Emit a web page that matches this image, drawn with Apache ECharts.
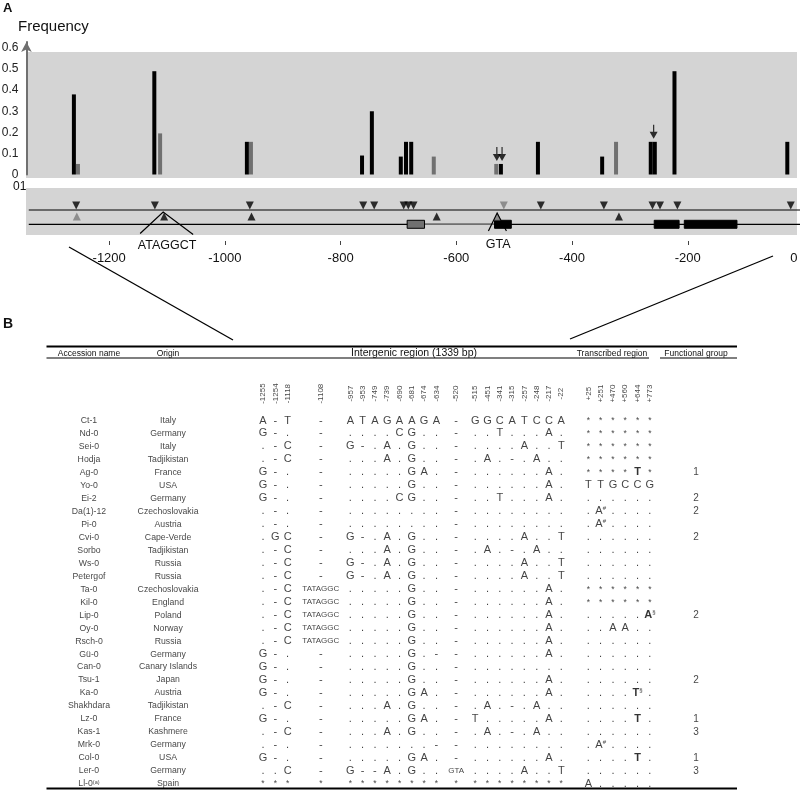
<!DOCTYPE html>
<html><head><meta charset="utf-8">
<script src="https://cdn.jsdelivr.net/npm/echarts@6.0.0/dist/echarts.min.js"></script>
<style>html,body{margin:0;padding:0;background:#fff}#c{width:800px;height:793px}</style>
</head><body><div id="c"></div>
<script>
const FONT = '"Liberation Sans", Arial, Helvetica, sans-serif';
const BG = '#d4d4d4';
const GRAY = '#707070';

// ---------- Panel A data ----------
const blackPos  = [-1261, -1122, -962, -763, -746, -696, -687, -678, -523, -459, -348, -264, -257, -223, -28];
const blackFreq = [0.38, 0.49, 0.155, 0.09, 0.30, 0.085, 0.155, 0.155, 0.05, 0.155, 0.085, 0.155, 0.155, 0.49, 0.155];
const grayPos   = [-1254, -1112, -955, -639, -531, -324];
const grayFreq  = [0.05, 0.195, 0.155, 0.085, 0.05, 0.155];
const arrowPos  = [-530, -521, -259];
const arrowFreq = [0.05, 0.05, 0.155];
const freqTicks = [0, 0.1, 0.2, 0.3, 0.4, 0.5, 0.6];
const posTicks  = [-1200, -1000, -800, -600, -400, -200, 0];
const region    = [-1339, 0];
const downBlack = [-1257, -1121, -957, -761, -742, -691, -683, -674, -454, -345, -261, -248, -218, -22];
const downGray  = [-518];
const upBlack   = [-1105, -954, -634, -319];
const upGray    = [-1256, -529];
const boxStart  = [-685, -534, -258, -206];
const boxEnd    = [-655, -505, -215, -115];
const boxKind   = ['gray', 'black', 'black', 'black'];
const calloutPos  = [-1105, -529];
const calloutText = ['ATAGGCT', 'GTA'];

// ---------- Panel B data ----------
const colLabels = ['-1255','-1254','-1118','-1108','-957','-953','-749','-739','-690','-681','-674','-634','-520',
  '-515','-451','-341','-315','-257','-248','-217','-22','+25','+251','+470','+560','+644','+773'];
const accessions = ['Ct-1','Nd-0','Sei-0','Hodja','Ag-0','Yo-0','Ei-2','Da(1)-12','Pi-0','Cvi-0','Sorbo','Ws-0',
  'Petergof','Ta-0','Kil-0','Lip-0','Oy-0','Rsch-0','Gü-0','Can-0','Tsu-1','Ka-0','Shakhdara','Lz-0','Kas-1',
  'Mrk-0','Col-0','Ler-0','Ll-0^(a)'];
const origins = ['Italy','Germany','Italy','Tadjikistan','France','USA','Germany','Czechoslovakia','Austria',
  'Cape-Verde','Tadjikistan','Russia','Russia','Czechoslovakia','England','Poland','Norway','Russia','Germany',
  'Canary Islands','Japan','Austria','Tadjikistan','France','Kashmere','Germany','USA','Germany','Spain'];
const groups = ['','','','','1','','2','2','','2','','','','','','2','','','','','2','','','1','3','','1','3',''];
const alleles = [
  'A - T - A T A G A A G A - G G C A T C C A * * * * * *',
  'G - . - . . . . C G . . - . . T . . . A . * * * * * *',
  '. - C - G - . A . G . . - . . . . A . . T * * * * * *',
  '. - C - . . . A . G . . - . A . - . A . . * * * * * *',
  'G - . - . . . . . G A . - . . . . . . A . * * * * T! *',
  'G - . - . . . . . G . . - . . . . . . A . T T G C C G',
  'G - . - . . . . C G . . - . . T . . . A . . . . . . .',
  '. - . - . . . . . . . . - . . . . . . . . . A# . . . .',
  '. - . - . . . . . . . . - . . . . . . . . . A# . . . .',
  '. G C - G - . A . G . . - . . . . A . . T . . . . . .',
  '. - C - . . . A . G . . - . A . - . A . . . . . . . .',
  '. - C - G - . A . G . . - . . . . A . . T . . . . . .',
  '. - C - G - . A . G . . - . . . . A . . T . . . . . .',
  '. - C TATAGGC . . . . . G . . - . . . . . . A . * * * * * *',
  '. - C TATAGGC . . . . . G . . - . . . . . . A . * * * * * *',
  '. - C TATAGGC . . . . . G . . - . . . . . . A . . . . . . A!§',
  '. - C TATAGGC . . . . . G . . - . . . . . . A . . . A A . .',
  '. - C TATAGGC . . . . . G . . - . . . . . . A . . . . . . .',
  'G - . - . . . . . G . - - . . . . . . A . . . . . . .',
  'G - . - . . . . . G . . - . . . . . . . . . . . . . .',
  'G - . - . . . . . G . . - . . . . . . A . . . . . . .',
  'G - . - . . . . . G A . - . . . . . . A . . . . . T!§ .',
  '. - C - . . . A . G . . - . A . - . A . . . . . . . .',
  'G - . - . . . . . G A . - T . . . . . A . . . . . T! .',
  '. - C - . . . A . G . . - . A . - . A . . . . . . . .',
  '. - . - . . . . . . . - - . . . . . . . . . A# . . . .',
  'G - . - . . . . . G A . - . . . . . . A . . . . . T! .',
  '. . C - G - - A . G . . GTA . . . . A . . T . . . . . .',
  '* * * * * * * * * * * * * * * * * * * * * A . . . . .'
];

// ---------- layout constants ----------
const UPPER_Y = 0.532, LOWER_Y = 0.228, DOWN_Y = 0.628, UP_Y = 0.394;
const colGapAfter = {2: 1.7, 3: 1.4, 11: 0.6, 12: 0.55, 20: 1.2};
const colSlot = []; (function(){ let s = 0; colLabels.forEach((c, j) => { colSlot.push(s); s += 1 + (colGapAfter[j] || 0); }); })();
const NAME_SLOT = -14.15, ORIGIN_SLOT = -7.72, GROUP_SLOT = 35.2, HEAD_ROW = -2.07;
const ARROW = 'path://M3.4,0L4.6,0L4.6,7L8,7L4,14L0,7L3.4,7Z';
const CALLOUT_GEOM = [
  {apex: [-1, -4.5], left: [-24, 17], right: [29, 18], text: [3, 29]},
  {apex: [-0.3, -3.5], left: [-9, 14.5], right: [9, 14.5], text: [0.7, 28]}
];

const rich = {
  n:  {fontSize: 11, color: '#111', fontFamily: FONT},
  b:  {fontSize: 11, fontWeight: 'bold', color: '#000', fontFamily: FONT},
  s:  {fontSize: 6, color: '#111', verticalAlign: 'top', fontFamily: FONT},
  sm: {fontSize: 8, color: '#111', fontFamily: FONT},
  st: {fontSize: 8.5, color: '#111', fontFamily: FONT},
  nm: {fontSize: 8.7, color: '#111', fontFamily: FONT},
  ns: {fontSize: 5.5, color: '#111', verticalAlign: 'top', fontFamily: FONT}
};
function cellRich(tok) {
  if (tok === '*') return '{st|*}';
  if (tok.length >= 3 && /^[ACGT]+$/.test(tok)) return '{sm|' + tok + '}';
  const bold = tok.indexOf('!') >= 0;
  const t = tok.replace('!', '');
  const main = t[0], sup = t.slice(1);
  return '{' + (bold ? 'b' : 'n') + '|' + main + '}' + (sup ? '{s|' + sup + '}' : '');
}
function nameRich(n) {
  const parts = n.split('^');
  return '{nm|' + parts[0] + '}' + (parts[1] ? '{ns|' + parts[1] + '}' : '');
}

const cells = [];
alleles.forEach((row, i) => row.split(' ').forEach((tok, j) => cells.push({name: tok, value: [colSlot[j], i]})));
const nameItems = [];
accessions.forEach((a, i) => nameItems.push({name: a, value: [NAME_SLOT, i]}));
origins.forEach((o, i) => nameItems.push({name: o, value: [ORIGIN_SLOT, i]}));
const groupItems = groups.map((g, i) => ({name: g, value: [GROUP_SLOT, i]})).filter(d => d.name !== '');
const headItems = colLabels.map((c, j) => ({name: c, value: [colSlot[j], HEAD_ROW]}));

function txt(text, x, y, size, weight, align) {
  return {type: 'text', x: x, y: y, silent: true, z: 10,
    style: {text: text, fontSize: size, fontWeight: weight || 'normal', fontFamily: FONT, fill: '#111',
      align: align || 'left', verticalAlign: 'middle', textAlign: align || 'left', textVerticalAlign: 'middle'}};
}
function ln(x1, y1, x2, y2, w) {
  return {type: 'line', silent: true, z: 10, shape: {x1: x1, y1: y1, x2: x2, y2: y2}, style: {stroke: '#000', lineWidth: w}};
}

const hiddenLabelScatter = (extra) => Object.assign({
  type: 'scatter', xAxisIndex: 2, yAxisIndex: 2, symbolSize: 1, silent: true,
  itemStyle: {color: 'rgba(0,0,0,0)'}, large: false
}, extra);

const option = {
  animation: false,
  backgroundColor: '#fff',
  textStyle: {fontFamily: FONT},
  grid: [
    {left: 26.45, right: -3.5, top: 42, height: 132.5, outerBoundsMode: 'none', containLabel: false},
    {left: 26.45, right: -3.5, top: 188, height: 47, outerBoundsMode: 'none', containLabel: false},
    {left: 17, right: 45, top: 342.6, height: 447.8, outerBoundsMode: 'none', containLabel: false}
  ],
  xAxis: [
    {gridIndex: 0, type: 'value', min: -1343, max: 0, show: false},
    {gridIndex: 1, type: 'value', min: -1343, max: 0, offset: 6,
      axisLine: {show: false, onZero: false}, splitLine: {show: false},
      axisTick: {show: true, length: 4, customValues: posTicks.filter(v => v !== 0), lineStyle: {color: '#444', width: 1}},
      axisLabel: {show: true, customValues: posTicks, margin: 11, fontSize: 13, color: '#111', fontFamily: FONT,
        alignMaxLabel: 'right',
        formatter: v => v === 0 ? '{z|0}' : String(v),
        rich: {z: {fontSize: 13, color: '#111', fontFamily: FONT, padding: [0, 6, 0, 0]}}}},
    {gridIndex: 2, type: 'value', min: -20, max: 40, show: false}
  ],
  yAxis: [
    {gridIndex: 0, type: 'value', min: 0, max: 0.6286,
      axisLine: {show: true, onZero: false, lineStyle: {color: GRAY, width: 2}, symbol: ['none', 'arrow'], symbolSize: [8, 10]},
      axisTick: {show: false}, splitLine: {show: false},
      axisLabel: {customValues: freqTicks, fontSize: 12, color: '#222', margin: 8, fontFamily: FONT,
        formatter: v => v === 0 ? '0' : v.toFixed(1)}},
    {gridIndex: 1, type: 'value', min: 0, max: 1, show: false},
    {gridIndex: 2, type: 'value', min: -6, max: 28.5, inverse: true, show: false}
  ],
  graphic: {elements: [
    {type: 'rect', z: -10, silent: true, shape: {x: 26, y: 52, width: 771, height: 126}, style: {fill: BG}},
    {type: 'rect', z: -10, silent: true, shape: {x: 26, y: 188, width: 771, height: 47}, style: {fill: BG}},
    txt('A', 3, 8, 13, 'bold'),
    txt('Frequency', 18, 27, 15),
    txt('01', 13, 187, 12),
    txt('B', 3, 324, 14, 'bold'),
    ln(69, 247, 233, 340, 1.3),
    ln(773, 256, 570, 339, 1.3),
    ln(46.5, 346.5, 737, 346.5, 2),
    ln(46.5, 358, 649, 358, 1.2),
    ln(660, 358, 737, 358, 1.2),
    ln(46.5, 788.5, 737, 788.5, 2.2),
    txt('Accession name', 89, 353.5, 8.5, 'normal', 'center'),
    txt('Origin', 168, 353.5, 8.5, 'normal', 'center'),
    txt('Intergenic region (1339 bp)', 414, 353, 10.5, 'normal', 'center'),
    txt('Transcribed region', 612, 353.5, 8.5, 'normal', 'center'),
    txt('Functional group', 696, 353.5, 8.5, 'normal', 'center')
  ]},
  series: [
    {type: 'bar', xAxisIndex: 0, yAxisIndex: 0, barWidth: 4, barGap: '-100%', silent: true,
      data: blackPos.map((x, i) => [x, blackFreq[i]]), itemStyle: {color: '#000'}},
    {type: 'bar', xAxisIndex: 0, yAxisIndex: 0, barWidth: 4, barGap: '-100%', silent: true,
      data: grayPos.map((x, i) => [x, grayFreq[i]]), itemStyle: {color: GRAY}},
    {type: 'scatter', xAxisIndex: 0, yAxisIndex: 0, symbol: ARROW, symbolSize: [8, 14], symbolOffset: [0, -10], silent: true, z: 5,
      data: arrowPos.map((x, i) => [x, arrowFreq[i]]), itemStyle: {color: '#000'}},
    {type: 'line', xAxisIndex: 1, yAxisIndex: 1, symbol: 'none', silent: true,
      data: region.map(x => [x, UPPER_Y]), lineStyle: {color: '#000', width: 1.2}},
    {type: 'line', xAxisIndex: 1, yAxisIndex: 1, symbol: 'none', silent: true,
      data: region.map(x => [x, LOWER_Y]), lineStyle: {color: '#000', width: 1.2}},
    {type: 'line', xAxisIndex: 1, yAxisIndex: 1, symbol: 'none', silent: true, z: 3,
      data: [[boxEnd[0], LOWER_Y], [boxStart[1], LOWER_Y]], lineStyle: {color: GRAY, width: 1.6}},
    {type: 'custom', xAxisIndex: 1, yAxisIndex: 1, silent: true, z: 4,
      data: boxStart.map((s, i) => [s, boxEnd[i]]),
      renderItem: (params, api) => {
        const a = api.coord([api.value(0), LOWER_Y]);
        const b = api.coord([api.value(1), LOWER_Y]);
        const g = boxKind[params.dataIndex] === 'gray';
        return {type: 'rect', shape: {x: a[0], y: a[1] - 4, width: b[0] - a[0], height: 8},
          style: {fill: g ? GRAY : '#000', stroke: '#000', lineWidth: 1}};
      }},
    {type: 'scatter', xAxisIndex: 1, yAxisIndex: 1, symbol: 'triangle', symbolRotate: 180, symbolSize: [8, 8], silent: true, z: 5,
      data: downBlack.map(x => [x, DOWN_Y]), itemStyle: {color: '#000'}},
    {type: 'scatter', xAxisIndex: 1, yAxisIndex: 1, symbol: 'triangle', symbolRotate: 180, symbolSize: [8, 8], silent: true, z: 5,
      data: downGray.map(x => [x, DOWN_Y]), itemStyle: {color: '#7a7a7a'}},
    {type: 'scatter', xAxisIndex: 1, yAxisIndex: 1, symbol: 'triangle', symbolSize: [8, 8], silent: true, z: 5,
      data: upBlack.map(x => [x, UP_Y]), itemStyle: {color: '#000'}},
    {type: 'scatter', xAxisIndex: 1, yAxisIndex: 1, symbol: 'triangle', symbolSize: [8, 8], silent: true, z: 5,
      data: upGray.map(x => [x, UP_Y]), itemStyle: {color: '#7a7a7a'}},
    {type: 'custom', xAxisIndex: 1, yAxisIndex: 1, silent: true, z: 6,
      data: calloutPos.map((x, i) => [x, i]),
      renderItem: (params, api) => {
        const i = params.dataIndex, g = CALLOUT_GEOM[i];
        const c = api.coord([api.value(0), UP_Y]);
        return {type: 'group', children: [
          {type: 'polyline', shape: {points: [[c[0] + g.left[0], c[1] + g.left[1]], [c[0] + g.apex[0], c[1] + g.apex[1]], [c[0] + g.right[0], c[1] + g.right[1]]]},
            style: {stroke: '#000', lineWidth: 1.2, fill: null}},
          {type: 'text', x: c[0] + g.text[0], y: c[1] + g.text[1],
            style: {text: calloutText[i], fontSize: 12.5, fontFamily: FONT, fill: '#111',
              align: 'center', verticalAlign: 'middle', textAlign: 'center', textVerticalAlign: 'middle'}}
        ]};
      }},
    hiddenLabelScatter({data: cells, label: {show: true, position: 'inside', formatter: p => cellRich(p.name), rich: rich}}),
    hiddenLabelScatter({data: nameItems, label: {show: true, position: 'inside', formatter: p => nameRich(p.name), rich: rich}}),
    hiddenLabelScatter({data: groupItems, label: {show: true, position: 'inside', formatter: p => p.name, fontSize: 10, color: '#111', fontFamily: FONT}}),
    hiddenLabelScatter({data: headItems, label: {show: true, position: 'inside', rotate: 90, formatter: p => p.name, fontSize: 8, color: '#111', fontFamily: FONT}})
  ]
};

const chart = echarts.init(document.getElementById('c'), null, {renderer: 'canvas', width: 800, height: 793});
chart.setOption(option);
</script></body></html>
